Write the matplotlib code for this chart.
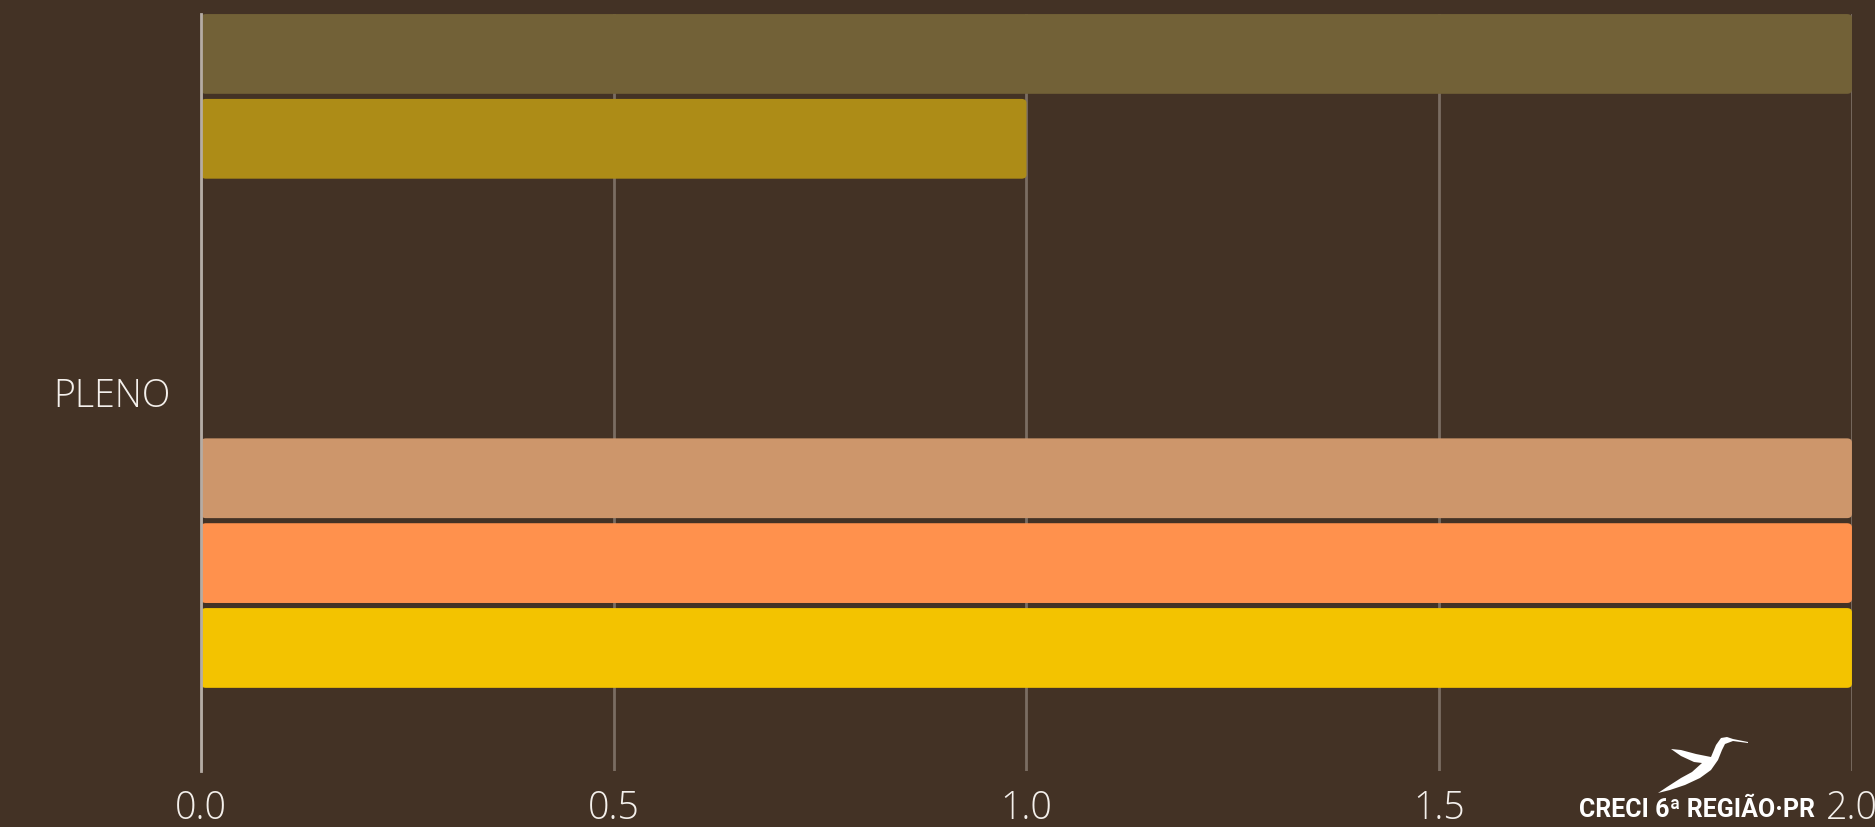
import matplotlib
matplotlib.use("Agg")
import matplotlib.pyplot as plt
from matplotlib.patches import FancyBboxPatch, Polygon

# one category, eight series (top to bottom); three series are empty
categories = ["PLENO"]
values = [2, 1, 0, 0, 0, 2, 2, 2]
colors = ["#726137", "#AD8C17", "#8C6A3C", "#B07A4A", "#E0A030",
          "#CD966B", "#FF914D", "#F3C300"]
xticks = [0.0, 0.5, 1.0, 1.5, 2.0]

BG = "#433225"
TXT = "#F4F0EC"
W, H = 1875, 827
plt.rcParams["font.family"] = ["Open Sans", "DejaVu Sans"]

fig = plt.figure(figsize=(W / 100, H / 100), dpi=100, facecolor=BG)
ax = fig.add_axes([0.1072, 0.0677, 0.8805, 0.9153], facecolor=BG)

h = 0.94
for i, (v, c) in enumerate(zip(values, colors)):
    if v <= 0:
        continue
    ax.add_patch(FancyBboxPatch((0, i - h / 2), v, h,
                                boxstyle="round,pad=0,rounding_size=0.006",
                                mutation_aspect=8,
                                fc=c, ec="none", zorder=3))

ax.set_xlim(0, 2)
ylo, yhi = -0.47, 8.45
ax.set_ylim(yhi, ylo)
ax.set_xticks(xticks)
ax.set_xticklabels([f"{t:.1f}" for t in xticks], fontsize=27,
                   color=TXT, fontweight="light")
ax.set_yticks([(ylo + yhi) / 2])
ax.set_yticklabels(categories, fontsize=27, color=TXT, fontweight="light")
ax.tick_params(axis="both", length=0)
ax.tick_params(axis="x", pad=13)
ax.tick_params(axis="y", pad=22)

ax.grid(axis="x", color="#7A6D62", linewidth=2)
ax.set_axisbelow(True)
for s in ("top", "right", "bottom"):
    ax.spines[s].set_visible(False)
ax.spines["left"].set_color("#B5ACA4")
ax.spines["left"].set_linewidth(2)
ax.spines["left"].set_zorder(4)

# logo: hummingbird silhouette (pixel outline) + wordmark
bird_px = [(1748, 742), (1733, 739), (1727, 737), (1721, 738), (1716, 745),
           (1711, 757), (1696, 754), (1681, 750), (1671, 749), (1681, 756),
           (1694, 762), (1702, 763), (1692, 772), (1681, 778), (1667, 787),
           (1658, 793), (1670, 790), (1685, 785), (1700, 778), (1711, 770),
           (1718, 760), (1722, 750), (1725, 744), (1733, 741), (1748, 743)]
fig.patches.append(Polygon([(x / W, 1 - y / H) for x, y in bird_px],
                           closed=True, fc="white", ec="none",
                           transform=fig.transFigure, figure=fig))
fig.text(0.968, 0.006, "CRECI 6ª REGIÃO·PR", color="white", fontsize=18,
         fontweight="bold", family=["Roboto", "DejaVu Sans"],
         ha="right", va="bottom")

fig.savefig("out.png", dpi=100, facecolor=BG)
